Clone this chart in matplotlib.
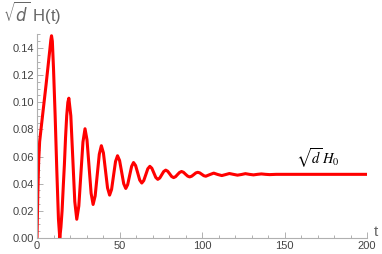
import matplotlib
matplotlib.use('Agg')
import matplotlib.pyplot as plt
from matplotlib.ticker import MultipleLocator, FormatStrFormatter

# Values (t, sqrt(d) H(t))
t_vals = [
    0.0, 0.5, 1.0, 1.6, 2.6, 4.0, 5.5, 7.0, 7.8, 8.4, 8.8,
    9.3, 10.0, 11.0, 12.0, 13.0, 13.8,
    14.5, 15.2, 16.0, 16.6, 17.3, 18.0, 18.7, 19.3,
    20.5, 21.7, 22.9, 24.1,
    25.35, 26.6, 27.85, 29.1,
    30.3, 31.55, 32.8, 34.0,
    35.25, 36.5, 37.75, 39.0,
    40.25, 41.5, 42.75, 44.0,
    45.2, 46.4, 47.6, 48.8,
    50.05, 51.3, 52.55, 53.8,
    54.95, 56.15, 57.35, 58.5,
    59.75, 61.0, 62.25, 63.5,
    64.7, 65.95, 67.15, 68.4,
    69.6, 70.8, 72.0, 73.2,
    74.4, 75.6, 76.8, 78.0,
    79.2, 80.4, 81.6, 82.8,
    84.0, 85.2, 86.4, 87.6,
    88.8, 90.0, 91.3, 92.5,
    93.7, 95.0, 96.2, 97.4,
    98.6, 99.8, 101.1, 102.3,
    104.5, 107.1, 109.5, 112.0, 114.2, 116.6, 119.0, 121.5,
    124.0, 126.3, 128.7, 131.2, 133.6, 136.0, 138.5, 141.0,
    145.0, 200.0,
]
h_vals = [
    0.0, 0.033, 0.056, 0.071, 0.082, 0.097, 0.113, 0.130, 0.139, 0.146, 0.149,
    0.145, 0.125, 0.090, 0.050, 0.014, 0.0,
    0.008, 0.020, 0.040, 0.054, 0.074, 0.090, 0.100, 0.103,
    0.090, 0.0584, 0.0268, 0.0138,
    0.0236, 0.0472, 0.0707, 0.0805,
    0.0723, 0.0526, 0.0329, 0.0247,
    0.0310, 0.0464, 0.0617, 0.0680,
    0.0627, 0.0498, 0.0369, 0.0316,
    0.0358, 0.0461, 0.0564, 0.0606,
    0.0571, 0.0486, 0.0400, 0.0365,
    0.0393, 0.0461, 0.0528, 0.0556,
    0.0534, 0.0481, 0.0427, 0.0405,
    0.0423, 0.0467, 0.0510, 0.0528,
    0.0514, 0.0480, 0.0446, 0.0432,
    0.0442, 0.0466, 0.0490, 0.0500,
    0.0492, 0.0473, 0.0453, 0.0445,
    0.0452, 0.0468, 0.0483, 0.0490,
    0.0484, 0.0470, 0.0456, 0.0450,
    0.0455, 0.0467, 0.0479, 0.0484,
    0.0480, 0.0470, 0.0459, 0.0455,
    0.0466, 0.0478, 0.0468, 0.0460, 0.0467, 0.0475, 0.0469, 0.0463,
    0.0468, 0.0474, 0.0469, 0.0465, 0.0469, 0.0472, 0.0469, 0.0467,
    0.0469, 0.0469,
]

W, H = 382, 254
fig = plt.figure(figsize=(W / 100, H / 100), dpi=100)
ax = fig.add_axes([37 / W, (H - 238) / H, 330 / W, (238 - 34.4) / H])

ax.plot(t_vals, h_vals, color='#ff0000', lw=2.2, solid_joinstyle='round')
ax.set_xlim(0, 200)
ax.set_ylim(0, 0.15)

axis_gray = '#b0b0b0'
label_gray = '#444444'
for side in ['top', 'right']:
    ax.spines[side].set_visible(False)
for side in ['left', 'bottom']:
    ax.spines[side].set_color(axis_gray)
    ax.spines[side].set_linewidth(0.8)

ax.xaxis.set_major_locator(MultipleLocator(50))
ax.xaxis.set_minor_locator(MultipleLocator(10))
ax.yaxis.set_major_locator(MultipleLocator(0.02))
ax.yaxis.set_minor_locator(MultipleLocator(0.005))
ax.yaxis.set_major_formatter(FormatStrFormatter('%.2f'))
ax.tick_params(which='both', direction='in', color=axis_gray, width=0.7,
               labelsize=8, labelcolor=label_gray, pad=2)
ax.tick_params(which='major', length=4)
ax.tick_params(which='minor', length=2.5)
for lab in ax.get_xticklabels() + ax.get_yticklabels():
    lab.set_fontfamily('Liberation Sans')

# axis labels, Mathematica style
fig.text(3 / W, 1 - 13 / H, r'$\sqrt{d}$ H(t)', fontsize=12, color='#666666',
         family='Liberation Sans', math_fontfamily='dejavusans',
         va='center', ha='left')
fig.text(374 / W, 1 - 232 / H, 't', fontsize=11, color='#666666',
         family='Liberation Sans', va='center', ha='left')

ax.text(170, 0.0585, r'$\sqrt{d}\,H_0$', fontsize=10.5, color='black',
        math_fontfamily='stix', ha='center', va='center')

fig.savefig('out.png', dpi=100)
